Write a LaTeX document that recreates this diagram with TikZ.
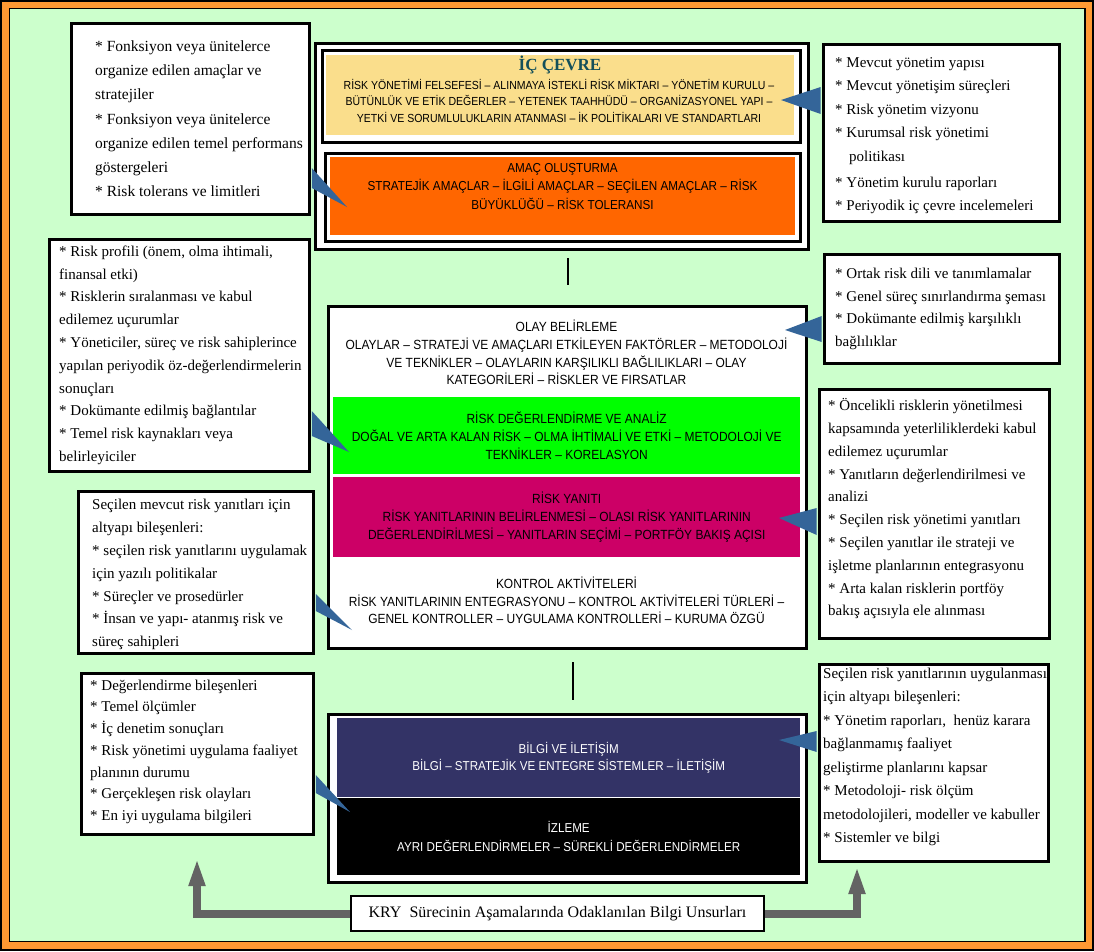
\documentclass[tikz,border=0pt]{standalone}
\usepackage{fontspec}
\setmainfont{Liberation Serif}
\newfontfamily\bandfont[FakeStretch=0.9]{Liberation Sans}
\usetikzlibrary{arrows.meta,calc}

\definecolor{pagegreen}{RGB}{204,255,204}
\definecolor{frameorange}{RGB}{255,153,51}
\definecolor{icyellow}{RGB}{250,222,140}
\definecolor{amacorange}{RGB}{255,102,0}
\definecolor{riskgreen}{RGB}{0,255,0}
\definecolor{yanitmag}{RGB}{204,0,102}
\definecolor{bilginavy}{RGB}{51,51,102}
\definecolor{calloutblue}{RGB}{52,101,153}
\definecolor{arrowgray}{RGB}{99,99,99}
\definecolor{titleteal}{RGB}{20,80,90}

\begin{document}
\begin{tikzpicture}[x=1pt, y=-1pt,
  sidebox/.style={draw=black, line width=2.5pt, fill=white, inner sep=0pt, anchor=north west},
  sidetext/.style={align=left, inner sep=0pt, anchor=west, font=\fontsize{15}{22.8}\selectfont},
  panel/.style={draw=black, line width=2.5pt, fill=white, inner sep=0pt, anchor=north west},
  bandframe/.style={draw=black, line width=2.5pt, inner sep=0pt, anchor=north west},
  band/.style={inner sep=0pt, anchor=north west, align=center, font=\bandfont\fontsize{13.3}{17.8}\selectfont},
  caps/.style={inner sep=0pt, align=center, font=\bandfont\fontsize{13.3}{17.7}\selectfont},
  callout/.style={fill=calloutblue},
  grayarrow/.style={draw=arrowgray, line width=8pt, line join=miter, -{Triangle[length=28pt,width=15pt]}},
  stub/.style={draw=black, line width=2pt}
]
\useasboundingbox (0,0) rectangle (1094,951);

% page frame
\fill[black] (0,0) rectangle (1094,951);
\fill[frameorange] (2,2) rectangle (1092,949);
\filldraw[fill=pagegreen, draw=black, line width=1.5pt] (9.5,8.5) rectangle (1085,941.5);

% internal environment and objective setting
\node[panel, minimum width=493pt, minimum height=206pt] (toppanel) at (314,42) {};
\node[bandframe, minimum width=478pt, minimum height=92pt] (icframe) at (321,49) {};
\node[band, fill=icyellow, minimum width=468pt, minimum height=80pt] (icband) at (326,55) {};
\node[inner sep=0pt, text=titleteal, font=\bfseries\fontsize{17}{17}\selectfont] (ictitle) at (560,65) {İÇ ÇEVRE};
\node[caps, font=\bandfont\fontsize{11.7}{16.5}\selectfont] (ictext) at (559,100.5)
  {RİSK YÖNETİMİ FELSEFESİ – ALINMAYA İSTEKLİ RİSK MİKTARI – YÖNETİM KURULU –\\
   BÜTÜNLÜK VE ETİK DEĞERLER – YETENEK TAAHHÜDÜ – ORGANİZASYONEL YAPI –\\
   YETKİ VE SORUMLULUKLARIN ATANMASI – İK POLİTİKALARI VE STANDARTLARI};

\node[bandframe, minimum width=475pt, minimum height=88pt] (amacframe) at (324,152) {};
\node[band, fill=amacorange, minimum width=465pt, minimum height=78pt] (amacband) at (330,157) {};
\node[caps, font=\bandfont\fontsize{13}{18.5}\selectfont] (amactext) at (562.5,186.5)
  {AMAÇ OLUŞTURMA\\
   STRATEJİK AMAÇLAR – İLGİLİ AMAÇLAR – SEÇİLEN AMAÇLAR – RİSK\\
   BÜYÜKLÜĞÜ – RİSK TOLERANSI};

% event identification to control activities
\node[panel, line width=3pt, minimum width=478pt, minimum height=342pt] (midpanel) at (327,305) {};
\node[caps] (olay) at (566.5,352.5)
  {OLAY BELİRLEME\\
   OLAYLAR – STRATEJİ VE AMAÇLARI ETKİLEYEN FAKTÖRLER – METODOLOJİ\\
   VE TEKNİKLER – OLAYLARIN KARŞILIKLI BAĞLILIKLARI – OLAY\\
   KATEGORİLERİ – RİSKLER VE FIRSATLAR};
\node[band, fill=riskgreen, minimum width=467pt, minimum height=77pt] (riskband) at (333,397)
  {RİSK DEĞERLENDİRME VE ANALİZ\\
   DOĞAL VE ARTA KALAN RİSK – OLMA İHTİMALİ VE ETKİ – METODOLOJİ VE\\
   TEKNİKLER – KORELASYON};
\node[band, fill=yanitmag, minimum width=467pt, minimum height=80pt] (yanitband) at (333,477)
  {RİSK YANITI\\
   RİSK YANITLARININ BELİRLENMESİ – OLASI RİSK YANITLARININ\\
   DEĞERLENDİRİLMESİ – YANITLARIN SEÇİMİ – PORTFÖY BAKIŞ AÇISI};
\node[caps] (kontrol) at (566.5,600.5)
  {KONTROL AKTİVİTELERİ\\
   RİSK YANITLARININ ENTEGRASYONU – KONTROL AKTİVİTELERİ TÜRLERİ –\\
   GENEL KONTROLLER – UYGULAMA KONTROLLERİ – KURUMA ÖZGÜ};

% information, communication and monitoring
\node[panel, line width=3pt, minimum width=478pt, minimum height=168pt] (botpanel) at (327,713) {};
\node[band, fill=bilginavy, text=white, minimum width=463pt, minimum height=79pt,
      font=\bandfont\fontsize{12.9}{16.5}\selectfont] (bilgiband) at (337,718)
  {BİLGİ VE İLETİŞİM\\
   BİLGİ – STRATEJİK VE ENTEGRE SİSTEMLER – İLETİŞİM};
\node[band, fill=black, text=white, minimum width=463pt, minimum height=77pt,
      font=\bandfont\fontsize{12.9}{18.5}\selectfont] (izlemeband) at (337,798)
  {İZLEME\\
   AYRI DEĞERLENDİRMELER – SÜREKLİ DEĞERLENDİRMELER};

% short links between the panels
\coordinate (stubAtop) at (568,258);
\coordinate (stubAbot) at (568,285);
\coordinate (stubBtop) at (573,662);
\coordinate (stubBbot) at (573,700);
\draw[stub] (stubAtop) -- (stubAbot);
\draw[stub] (stubBtop) -- (stubBbot);

% left-hand notes
\node[sidebox, minimum width=238pt, minimum height=191pt] (lb1) at (70,22) {};
\node[sidetext, font=\fontsize{15.5}{24.3}\selectfont] (lb1t) at ([xshift=25pt]lb1.west)
  {* Fonksiyon veya ünitelerce\\
   organize edilen amaçlar ve\\
   stratejiler\\
   * Fonksiyon veya ünitelerce\\
   organize edilen temel performans\\
   göstergeleri\\
   * Risk tolerans ve limitleri};

\node[sidebox, minimum width=260pt, minimum height=232pt] (lb2) at (48,238) {};
\node[sidetext] (lb2t) at ([xshift=11pt]lb2.west)
  {* Risk profili (önem, olma ihtimali,\\
   finansal etki)\\
   * Risklerin sıralanması ve kabul\\
   edilemez uçurumlar\\
   * Yöneticiler, süreç ve risk sahiplerince\\
   yapılan periyodik öz-değerlendirmelerin\\
   sonuçları\\
   * Dokümante edilmiş bağlantılar\\
   * Temel risk kaynakları veya\\
   belirleyiciler};

\node[sidebox, minimum width=235pt, minimum height=162pt] (lb3) at (77,490) {};
\node[sidetext] (lb3t) at ([xshift=15pt, yshift=-2.5pt]lb3.west)
  {Seçilen mevcut risk yanıtları için\\
   altyapı bileşenleri:\\
   * seçilen risk yanıtlarını uygulamak\\
   için yazılı politikalar\\
   * Süreçler ve prosedürler\\
   * İnsan ve yapı- atanmış risk ve\\
   süreç sahipleri};

\node[sidebox, minimum width=232pt, minimum height=161pt] (lb4) at (80,672) {};
\node[sidetext, font=\fontsize{15}{21.7}\selectfont] (lb4t) at ([xshift=10pt, yshift=2pt]lb4.west)
  {* Değerlendirme bileşenleri\\
   * Temel ölçümler\\
   * İç denetim sonuçları\\
   * Risk yönetimi uygulama faaliyet\\
   planının durumu\\
   * Gerçekleşen risk olayları\\
   * En iyi uygulama bilgileri};

% right-hand notes
\node[sidebox, minimum width=236pt, minimum height=177pt] (rb1) at (822,43) {};
\node[sidetext, font=\fontsize{15}{23.5}\selectfont] (rb1t) at ([xshift=13pt, yshift=-3pt]rb1.west)
  {* Mevcut yönetim yapısı\\
   * Mevcut yönetişim süreçleri\\
   * Risk yönetim vizyonu\\
   * Kurumsal risk yönetimi\\
   \hspace*{14pt}politikası\\[2.5pt]
   * Yönetim kurulu raporları\\
   * Periyodik iç çevre incelemeleri};

\node[sidebox, minimum width=235pt, minimum height=109pt] (rb2) at (823,253) {};
\node[sidetext, font=\fontsize{15}{22.5}\selectfont] (rb2t) at ([xshift=12pt]rb2.west)
  {* Ortak risk dili ve tanımlamalar\\
   * Genel süreç sınırlandırma şeması\\
   * Dokümante edilmiş karşılıklı\\
   bağlılıklar};

\node[sidebox, minimum width=230pt, minimum height=249pt] (rb3) at (818,388) {};
\node[sidetext] (rb3t) at ([xshift=10pt, yshift=5pt]rb3.west)
  {* Öncelikli risklerin yönetilmesi\\
   kapsamında yeterliliklerdeki kabul\\
   edilemez uçurumlar\\
   * Yanıtların değerlendirilmesi ve\\
   analizi\\
   * Seçilen risk yönetimi yanıtları\\
   * Seçilen yanıtlar ile strateji ve\\
   işletme planlarının entegrasyonu\\
   * Arta kalan risklerin portföy\\
   bakış açısıyla ele alınması};

\node[sidebox, minimum width=229pt, minimum height=197pt] (rb4) at (818,663) {};
\node[sidetext, font=\fontsize{15}{23.5}\selectfont] (rb4t) at ([xshift=5pt, yshift=6pt]rb4.west)
  {Seçilen risk yanıtlarının uygulanması\\
   için altyapı bileşenleri:\\
   * Yönetim raporları,~~henüz karara\\
   bağlanmamış faaliyet\\
   geliştirme planlarını kapsar\\
   * Metodoloji- risk ölçüm\\
   metodolojileri, modeller ve kabuller\\
   * Sistemler ve bilgi};

% callout wedges from the notes to the components
\coordinate (tipIc) at (781,100);
\coordinate (tipAmac) at (347,207);
\coordinate (tipRisk) at (349,452);
\coordinate (tipKontrol) at (352,630);
\coordinate (tipIzleme) at (350,812);
\coordinate (tipOlay) at (785,330);
\coordinate (tipYanit) at (779,518);
\coordinate (tipBilgi) at (779,740);

\fill[callout] ([xshift=-1.3pt]rb1.west |- 0,87) -- (tipIc) -- ([xshift=-1.3pt]rb1.west |- 0,114) -- cycle;
\fill[callout] ([xshift=1.3pt]lb1.east |- 0,168) -- (tipAmac) -- ([xshift=1.3pt]lb1.east |- 0,188) -- cycle;
\fill[callout] ([xshift=1.3pt]lb2.east |- 0,411) -- (tipRisk) -- ([xshift=1.3pt]lb2.east |- 0,436) -- cycle;
\fill[callout] ([xshift=1.3pt]lb3.east |- 0,594) -- (tipKontrol) -- ([xshift=1.3pt]lb3.east |- 0,611) -- cycle;
\fill[callout] ([xshift=1.3pt]lb4.east |- 0,775) -- (tipIzleme) -- ([xshift=1.3pt]lb4.east |- 0,793) -- cycle;
\fill[callout] ([xshift=-1.3pt]rb2.west |- 0,316) -- (tipOlay) -- ([xshift=-1.3pt]rb2.west |- 0,342) -- cycle;
\fill[callout] ([xshift=-1.3pt]rb3.west |- 0,508) -- (tipYanit) -- ([xshift=-1.3pt]rb3.west |- 0,535) -- cycle;
\fill[callout] ([xshift=-1.3pt]rb4.west |- 0,731) -- (tipBilgi) -- ([xshift=-1.3pt]rb4.west |- 0,752) -- cycle;

% focus of information along the process
\node[draw=black, line width=2pt, fill=white, inner sep=0pt, anchor=north west,
      minimum width=413pt, minimum height=35pt, font=\fontsize{16}{16}\selectfont] (kry) at (350,895)
  {KRY~~Sürecinin Aşamalarında Odaklanılan Bilgi Unsurları};
\coordinate (feedL) at (197,858);
\coordinate (feedR) at (857,866);
\draw[grayarrow] (kry.west) -| (feedL);
\draw[grayarrow] (kry.east) -| (feedR);
\end{tikzpicture}
\end{document}
